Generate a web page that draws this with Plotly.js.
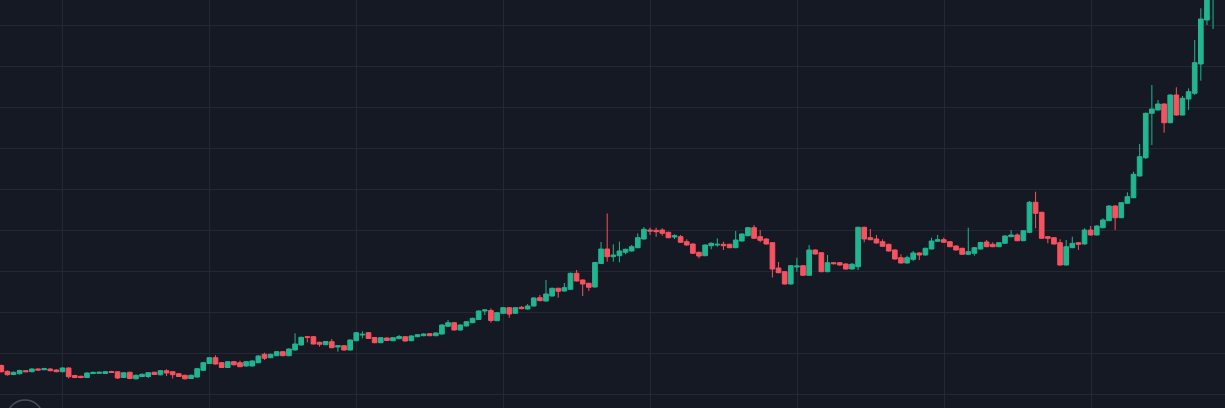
<!DOCTYPE html>
<html>
<head>
<meta charset="utf-8">
<script src="https://cdn.plot.ly/plotly-3.0.1.min.js"></script>
<style>
  html, body { margin: 0; padding: 0; background: #151924; overflow: hidden; }
  #chart { width: 1225px; height: 408px; }
</style>
</head>
<body>
<div id="chart"></div>
<script>
// Candle values (arbitrary price units), one entry per bar, left to right
const openVals = [42.5,36.7,33.5,34.3,37.3,36.3,39,38.3,39,38,36.3,40,32.5,31.7,30.5,34.5,34.7,34.5,36.5,36.2,
  30.5,35.7,29.2,31.5,31.5,35.7,33.2,37.3,36.3,34.3,32.7,29.5,31,37.7,44.5,50.3,45.3,40.5,46.3,45.3,
  42,42,45.3,53.7,50.3,52.3,56.3,52.3,58,63,71.3,71.3,65.7,63.3,66.3,61,62.3,58,67.3,73,
  75.3,70.5,65.3,70,67.3,69.3,71.3,67.3,71.3,72.3,74.3,72.3,74,81.7,85.3,78,82,85.3,88.5,97,
  97.5,87.3,94.7,100.3,94.7,100.7,99,102,110.3,107,112,119.7,117,118.7,134.7,128,124.7,121,144.5,159,
  151.3,152.3,155.7,157,160.3,169,178,177.7,178,175.7,171,171.3,166.3,164,155.7,152.3,162.3,163,163.7,163.7,
  160.3,167,172.3,180.3,171.3,169,165.3,140,136.3,124,141,142.3,132.7,158,155.3,136.3,145.3,145.3,144,139,
  141.3,180.7,170.3,169,166.3,163.7,158,150.3,145,148.7,155,153,159,166.7,168.3,166.3,162,159.7,153.7,154.7,
  159,166,163.7,161.3,164.7,171.3,173,167.3,175.7,205.7,195.7,171.3,170.3,165.3,143,160.3,165.3,164,178,173,
  180.3,187.3,202,190.3,204.7,210.3,232,250.3,294.7,298,304,285.3,313,293,309,314.7,344,388,425];
const highVals = [43.5,37.5,36.5,38.3,38,39.8,39.7,40.2,39.8,38.7,40.8,40.7,33.2,32.3,35.8,36.3,36.5,37,37.2,36.8,
  36,36.3,33.5,34.5,36,36.3,38,38.7,37,35,33.3,33.5,40,46.2,51,52.7,46,47,47,47.3,
  47,47.7,52.7,55.3,54.3,57,57,59.7,74.7,71.3,72,72,66.3,67,69,62.8,62.8,68.5,76,76.7,
  76,71,71,70.7,71,73,72,72.7,74,74.7,75,75.7,83.7,88,86,83.7,87,90.3,97.7,98.5,
  99.7,96,101,101,101,102,104,110.7,113,128,120.3,120.3,125,135.3,138,128.7,125.3,146.2,166,194.5,
  163.7,166.3,159.3,163,174.7,181,180.3,180.3,179.7,176.3,173.7,173,168.7,164.7,156.3,163.7,165.7,169.7,166.3,164.3,
  177,174.7,181,183,178,169.7,166,146,137,143,150.3,143,163,158.7,156,153,146,146,144.7,145,
  181.3,181.3,179,173,168.7,164.3,158.7,153.7,152.3,157,155.7,160.3,170.3,173,170.3,167,162.7,160.3,180.3,161,
  166.2,168,165.7,166,172.7,178,174.7,178,207,216.3,196.3,172,171,168.7,168,171.3,166,179.7,182,182.7,
  189.7,202.7,202.7,206,215.7,236.3,264,295.3,323,308,304.7,313.7,320.7,312,319.7,368,399.7,433,445];
const lowVals = [35.5,32.5,32.8,33.5,35.7,35.7,37.5,37.8,36.7,35.7,35.7,29.5,29.8,29.8,30,34,34.2,34,35,29,
  30,28.8,28.5,31,30,33,32.7,32,29.5,31,28.5,29,30.5,37,44,43.5,40,40,42.7,40.8,
  41.5,41.5,44.8,48,49.8,51.8,51.8,51.8,57.5,62.5,65.5,63.5,61.3,62.8,59.8,56.3,57.5,57.5,66.8,69.7,
  69,64.8,64.8,67,66.8,68.8,66.5,66.8,70.8,71.8,71.8,71.8,73.5,81,77.5,77.5,81.5,84.8,88,93,
  85.3,86.8,94,90.3,94,98.8,98.5,101.5,106.8,106.5,111.5,110.3,116.5,118,126.5,112,117,120.5,144,146.3,
  146.3,145.7,153.7,156.5,159.8,168.5,173,171.3,172.3,169.8,169,165.2,162.5,154.2,149.7,151.8,158.7,161.3,158,159.8,
  159.8,166.5,171.8,169.2,165.7,163.5,130.5,134.8,123.5,123.5,136.3,132.2,132.2,153.5,135.8,135.8,143.8,142.5,138.5,138.5,
  138,165.7,167.8,164.5,161.2,156.5,148.5,144.5,144.5,147,148,152.5,158.5,166.2,165.2,160.8,157.5,153.2,153.2,152.3,
  158.5,160.8,160.8,160.8,164.2,170.8,166.8,166.8,174.7,179.7,169.2,164.7,163.5,142.5,142.5,159.8,158,163.5,172.5,172.5,
  179.8,186.8,178,189.8,204.2,209.8,231.5,249,263,297.5,275.3,284.8,292.5,292.5,298,313,327.3,383,379];
const closeVals = [36.3,33.3,35.7,37.5,36.3,39,38,39.3,37.3,36.3,40,31.3,30.5,30.5,35,35.7,35.7,36.3,35.5,30,
  35.2,29.5,32.7,33.7,35.3,33.5,37.3,35,33.3,31.5,29.2,32.7,39.3,45.3,50.3,44,40.5,46.3,43.2,41.3,
  46.3,47,52,49.7,53.7,56.3,52.3,59,64,70.7,70.7,64,63.7,66.5,60.3,62.3,58,68,75.3,73.7,
  69.5,65.3,70.3,67.5,70.3,71.5,67,72,73.3,74,72.3,75,83,85.3,78,83,86.3,89.7,97,98,
  87.5,95.3,100.3,94,100.3,99.3,102,110,107.3,114,119.7,116.7,120.3,134.7,127,124,120.7,145.5,159,151.3,
  153,157,158.7,161.3,170.3,178.7,177,176.3,174.7,170.3,172.3,165.7,163,154.7,152,163,164.7,163.7,162.3,160.3,
  168,174,180.3,169.7,167.7,164,139,135.3,124,142.3,142,132.7,158,154,136.3,145.3,144.3,143,139,143.7,
  180.7,169,168.3,165,161.7,157,149,145,150.3,155,153,159.7,167,168.3,165.7,161.3,158,153.7,156.3,160.3,
  165.5,161.3,161.3,165.3,172,173,167.3,177.3,205.7,194.7,169.7,169.7,164,143,161.3,164.7,163.7,178,173,182,
  188,202,190.3,205.3,211.3,233.7,251.3,294.7,299,304,285.3,313,293,309.7,316.3,345.3,389,423,440];

const barIndex = openVals.map((_, i) => i);

const UP = '#21b590';
const DOWN = '#f7525f';
const BG = '#151924';
const GRID = '#242834';

const trace = {
  type: 'candlestick',
  x: barIndex,
  open: openVals,
  high: highVals,
  low: lowVals,
  close: closeVals,
  increasing: { line: { color: UP, width: 1 }, fillcolor: UP },
  decreasing: { line: { color: DOWN, width: 1 }, fillcolor: DOWN },
  whiskerwidth: 0,
  hoverinfo: 'none',
  showlegend: false
};

const layout = {
  width: 1225,
  height: 408,
  margin: { l: 0, r: 0, t: 0, b: 0, pad: 0 },
  paper_bgcolor: BG,
  plot_bgcolor: BG,
  boxgap: 0.24,
  boxgroupgap: 0,
  showlegend: false,
  xaxis: {
    range: [-0.2124, 199.95],
    tickmode: 'linear',
    tick0: 9.92,
    dtick: 24.02,
    showgrid: true,
    gridcolor: GRID,
    gridwidth: 1,
    zeroline: false,
    showline: false,
    showticklabels: false,
    ticks: '',
    rangeslider: { visible: false },
    fixedrange: true
  },
  yaxis: {
    range: [0, 408],
    tickmode: 'linear',
    tick0: 14,
    dtick: 41,
    showgrid: true,
    gridcolor: GRID,
    gridwidth: 1,
    zeroline: false,
    showline: false,
    showticklabels: false,
    ticks: '',
    fixedrange: true
  },
  shapes: [{
    type: 'circle',
    xref: 'paper', yref: 'paper',
    x0: 7 / 1225, x1: 43 / 1225,
    y0: (408 - 436) / 408, y1: (408 - 400) / 408,
    line: { color: '#4a4e5a', width: 1.5 },
    fillcolor: 'rgba(0,0,0,0)',
    layer: 'above'
  }]
};

Plotly.newPlot('chart', [trace], layout, { displayModeBar: false, staticPlot: true });
</script>
</body>
</html>
